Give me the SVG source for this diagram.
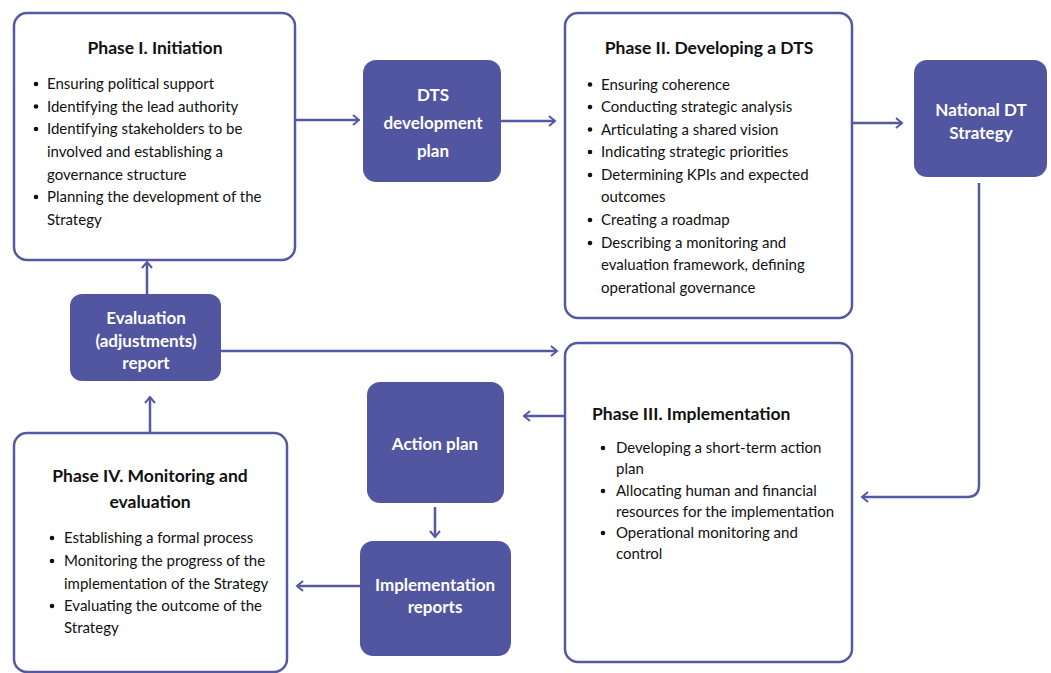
<svg xmlns="http://www.w3.org/2000/svg" width="1051" height="673" viewBox="0 0 1051 673">
<defs>
<style>
.box{fill:#fff;stroke:#5558a3;stroke-width:2.5}
.dark{fill:#52559f;stroke:none}
.title{font-family:Lato,"Open Sans",sans-serif;font-weight:bold;font-size:17.5px;fill:#111}
.body{font-family:Lato,"Open Sans",sans-serif;font-size:15px;fill:#111}
.wt{font-family:Lato,"Open Sans",sans-serif;font-weight:bold;font-size:17px;fill:#fff;text-anchor:middle}
.bul{fill:#111}
.conn{fill:none;stroke:#5558a3;stroke-width:2.5}
</style>
<marker id="ah" markerUnits="userSpaceOnUse" markerWidth="12" markerHeight="14" refX="8" refY="6" orient="auto">
<path d="M2,1 L8,6 L2,11" fill="none" stroke="#5558a3" stroke-width="2"/>
</marker>
</defs>
<rect width="1051" height="673" fill="#fff"/>

<g id="connectors">
<path class="conn" d="M295 120 H359" marker-end="url(#ah)"/>
<path class="conn" d="M501 121 H555" marker-end="url(#ah)"/>
<path class="conn" d="M852 123 H902" marker-end="url(#ah)"/>
<path class="conn" d="M979 183 V485 Q979 497 967 497 H862" marker-end="url(#ah)"/>
<path class="conn" d="M221 351 H557" marker-end="url(#ah)"/>
<path class="conn" d="M565 416 H524" marker-end="url(#ah)"/>
<path class="conn" d="M147 294 V262" marker-end="url(#ah)"/>
<path class="conn" d="M150 433 V397" marker-end="url(#ah)"/>
<path class="conn" d="M435 507 V537" marker-end="url(#ah)"/>
<path class="conn" d="M360 586 H297" marker-end="url(#ah)"/>
</g>

<g id="phase1">
<rect class="box" x="14" y="13" width="281" height="247" rx="13"/>
<text class="title" x="155" y="54" text-anchor="middle">Phase I. Initiation</text>
<g class="bul"><circle cx="36" cy="84" r="2.3"/><circle cx="36" cy="106.5" r="2.3"/><circle cx="36" cy="129" r="2.3"/><circle cx="36" cy="197" r="2.3"/></g>
<text class="body" x="47" y="89">Ensuring political support</text>
<text class="body" x="47" y="111.5">Identifying the lead authority</text>
<text class="body" x="47" y="134">Identifying stakeholders to be</text>
<text class="body" x="47" y="157">involved and establishing a</text>
<text class="body" x="47" y="179.5">governance structure</text>
<text class="body" x="47" y="202">Planning the development of the</text>
<text class="body" x="47" y="225">Strategy</text>
</g>

<g id="dts-plan">
<rect class="dark" x="363" y="60" width="138" height="122" rx="13"/>
<text class="wt" x="433" y="101">DTS</text>
<text class="wt" x="433" y="129">development</text>
<text class="wt" x="433" y="157">plan</text>
</g>

<g id="phase2">
<rect class="box" x="565" y="13" width="287" height="305" rx="13"/>
<text class="title" x="709" y="54" text-anchor="middle">Phase II. Developing a DTS</text>
<g class="bul"><circle cx="590" cy="84.5" r="2.3"/><circle cx="590" cy="107" r="2.3"/><circle cx="590" cy="129.5" r="2.3"/><circle cx="590" cy="152" r="2.3"/><circle cx="590" cy="175" r="2.3"/><circle cx="590" cy="220" r="2.3"/><circle cx="590" cy="243" r="2.3"/></g>
<text class="body" x="601" y="89.5">Ensuring coherence</text>
<text class="body" x="601" y="112">Conducting strategic analysis</text>
<text class="body" x="601" y="134.5">Articulating a shared vision</text>
<text class="body" x="601" y="157">Indicating strategic priorities</text>
<text class="body" x="601" y="180">Determining KPIs and expected</text>
<text class="body" x="601" y="202">outcomes</text>
<text class="body" x="601" y="225">Creating a roadmap</text>
<text class="body" x="601" y="248">Describing a monitoring and</text>
<text class="body" x="601" y="270">evaluation framework, defining</text>
<text class="body" x="601" y="293">operational governance</text>
</g>

<g id="national-strategy">
<rect class="dark" x="914" y="60" width="133" height="117" rx="13"/>
<text class="wt" x="981" y="116">National DT</text>
<text class="wt" x="981" y="139">Strategy</text>
</g>

<g id="evaluation-report">
<rect class="dark" x="70" y="294" width="151" height="87" rx="12"/>
<text class="wt" x="146" y="324">Evaluation</text>
<text class="wt" x="146" y="347">(adjustments)</text>
<text class="wt" x="146" y="369">report</text>
</g>

<g id="phase3">
<rect class="box" x="565" y="343" width="287" height="319" rx="13"/>
<text class="title" x="592" y="420">Phase III. Implementation</text>
<g class="bul"><circle cx="603" cy="448" r="2.3"/><circle cx="603" cy="491" r="2.3"/><circle cx="603" cy="533" r="2.3"/></g>
<text class="body" x="616" y="453">Developing a short-term action</text>
<text class="body" x="616" y="474">plan</text>
<text class="body" x="616" y="496">Allocating human and financial</text>
<text class="body" x="616" y="517">resources for the implementation</text>
<text class="body" x="616" y="538">Operational monitoring and</text>
<text class="body" x="616" y="559">control</text>
</g>

<g id="action-plan">
<rect class="dark" x="367" y="382" width="137" height="121" rx="13"/>
<text class="wt" x="435" y="450">Action plan</text>
</g>

<g id="implementation-reports">
<rect class="dark" x="360" y="541" width="151" height="115" rx="13"/>
<text class="wt" x="435" y="591">Implementation</text>
<text class="wt" x="435" y="613">reports</text>
</g>

<g id="phase4">
<rect class="box" x="14" y="433" width="273" height="239" rx="13"/>
<text class="title" x="150" y="482" text-anchor="middle">Phase IV. Monitoring and</text>
<text class="title" x="150" y="508" text-anchor="middle">evaluation</text>
<g class="bul"><circle cx="52" cy="538" r="2.3"/><circle cx="52" cy="561" r="2.3"/><circle cx="52" cy="606" r="2.3"/></g>
<text class="body" x="64" y="543">Establishing a formal process</text>
<text class="body" x="64" y="566">Monitoring the progress of the</text>
<text class="body" x="64" y="589">implementation of the Strategy</text>
<text class="body" x="64" y="611">Evaluating the outcome of the</text>
<text class="body" x="64" y="633">Strategy</text>
</g>
</svg>
